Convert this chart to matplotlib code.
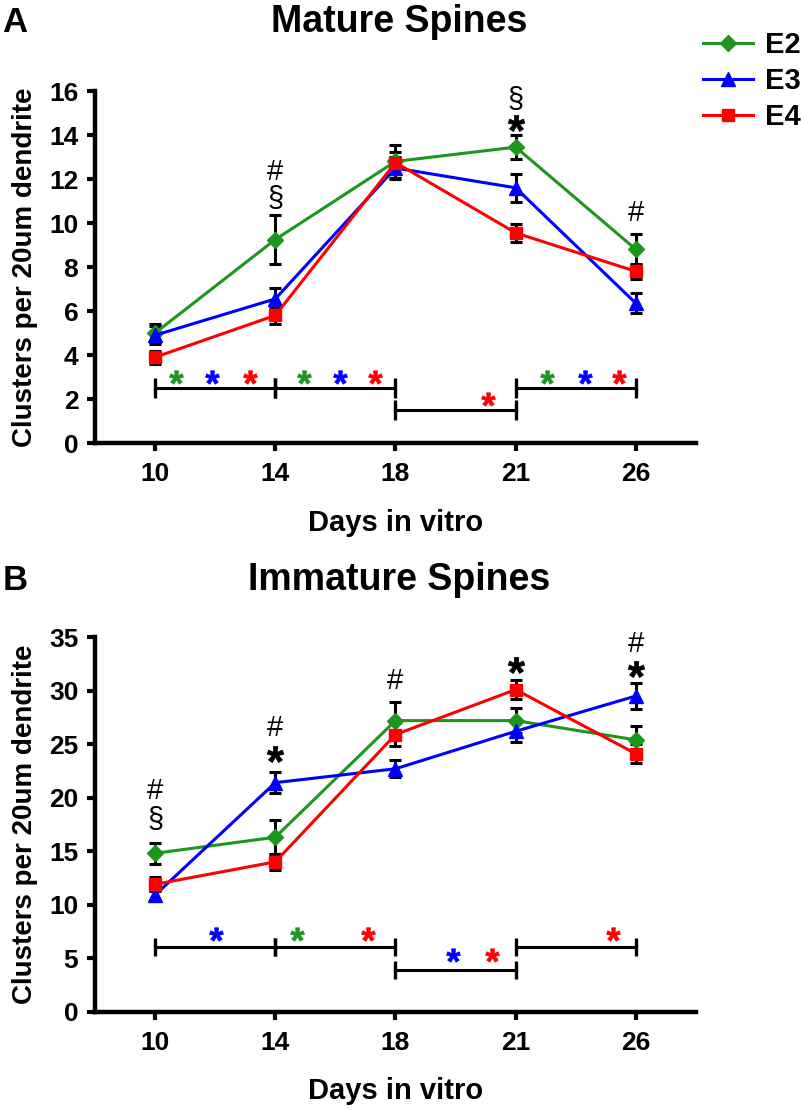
import matplotlib
matplotlib.use("Agg")
import matplotlib.pyplot as plt
import numpy as np
from matplotlib.textpath import TextPath
from matplotlib.font_manager import FontProperties
from matplotlib.path import Path

FAM = ['Liberation Sans Narrow', 'Liberation Sans', 'DejaVu Sans']
plt.rcParams['font.family'] = FAM

# ---------------- data ----------------
days = ['10', '14', '18', '21', '26']
series = ['E2', 'E3', 'E4']

mature_E2 = [5.0, 9.25, 12.8, 13.45, 8.8]
mature_E3 = [4.9, 6.55, 12.5, 11.6, 6.35]
mature_E4 = [3.9, 5.8, 12.75, 9.55, 7.8]
mature_E2_err = [0.4, 1.1, 0.75, 0.55, 0.7]
mature_E3_err = [0.4, 0.5, 0.5, 0.65, 0.45]
mature_E4_err = [0.3, 0.4, 0.5, 0.4, 0.35]

immature_E2 = [14.8, 16.3, 27.2, 27.2, 25.4]
immature_E3 = [10.9, 21.4, 22.7, 26.2, 29.5]
immature_E4 = [11.9, 14.0, 25.9, 30.1, 24.1]
immature_E2_err = [1.0, 1.6, 1.7, 1.2, 1.3]
immature_E3_err = [0.5, 1.0, 0.8, 1.0, 1.2]
immature_E4_err = [0.65, 0.75, 1.1, 0.9, 0.9]

# significance brackets: (start day index, end day index, y)
mature_brackets = [(0, 1, 2.5), (1, 2, 2.5), (2, 3, 1.5), (3, 4, 2.5)]
immature_brackets = [(0, 1, 6.0), (1, 2, 6.0), (2, 3, 3.9), (3, 4, 6.0)]
# coloured stars: (x position in day-index units, y, series)
mature_stars = [(0.17, 3.0, 'E2'), (0.47, 3.0, 'E3'), (0.79, 3.0, 'E4'),
                (1.24, 3.0, 'E2'), (1.54, 3.0, 'E3'), (1.83, 3.0, 'E4'),
                (2.77, 2.0, 'E4'),
                (3.26, 3.0, 'E2'), (3.58, 3.0, 'E3'), (3.86, 3.0, 'E4')]
immature_stars = [(0.51, 7.3, 'E3'), (1.18, 7.3, 'E2'), (1.77, 7.3, 'E4'),
                  (2.48, 5.25, 'E3'), (2.80, 5.25, 'E4'),
                  (3.81, 7.3, 'E4')]
# black symbols above points: (day index, symbol, y)
mature_marks = [(1, '#', 12.3), (1, '§', 11.1), (3, '§', 15.6), (3, '*', 14.55), (4, '#', 10.45)]
immature_marks = [(0, '#', 20.6), (0, '§', 17.9), (1, '#', 26.5), (1, '*', 24.1),
                  (2, '#', 30.9), (3, '*', 32.4), (4, '#', 34.4), (4, '*', 32.0)]

colors = {'E2': '#1c961c', 'E3': '#0000ff', 'E4': '#ff0000'}
markers = {'E2': 'D', 'E3': '^', 'E4': 's'}
msizes = {'E2': 8, 'E3': 10, 'E4': 9}


def glyph_marker(ch, weight='bold'):
    prop = FontProperties(family=['Liberation Sans', 'DejaVu Sans'], weight=weight)
    p = TextPath((0, 0), ch, prop=prop, size=1)
    codes = np.array(p.codes)
    verts = np.array(p.vertices, dtype=float)
    real = codes != Path.CLOSEPOLY
    x0, y0 = verts[real].min(axis=0)
    x1, y1 = verts[real].max(axis=0)
    verts = verts - np.array([(x0 + x1) / 2, (y0 + y1) / 2])
    verts[~real] = 0.0
    return Path(verts, codes)


STAR = glyph_marker('*')

fig = plt.figure(figsize=(8.01, 11.10), dpi=100)


def panel(rect, vals, errs, ymax, ystep, brackets, stars, marks, title, letter,
          title_y, cap_ms, star_ms, bstar_ms):
    ax = fig.add_axes(rect)
    x = np.arange(1, len(days) + 1)
    handles = []
    for s in series:
        ax.errorbar(x, vals[s], yerr=errs[s], fmt='none', ecolor='black',
                    elinewidth=2.2, capsize=4, capthick=2.2, zorder=2)
        h, = ax.plot(x, vals[s], color=colors[s], lw=2.2, marker=markers[s],
                     ms=msizes[s], mec=colors[s], mfc=colors[s], zorder=3, label=s)
        handles.append(h)
    for (i0, i1, y) in brackets:
        ax.plot([x[i0], x[i1]], [y, y], color='black', lw=2.2, zorder=2,
                marker='|', ms=cap_ms, mew=2.4, solid_capstyle='butt')
    for (px, y, s) in stars:
        ax.plot([px + 1], [y], linestyle='none', marker=STAR, ms=star_ms,
                mfc=colors[s], mec=colors[s], mew=0.5, zorder=4)
    for (i, sym, y) in marks:
        if sym == '*':
            ax.plot([x[i]], [y], linestyle='none', marker=STAR, ms=bstar_ms,
                    mfc='black', mec='black', mew=0.5, zorder=4)
        else:
            ax.text(x[i], y, sym, ha='center', va='center', fontsize=21,
                    family=['Liberation Sans', 'DejaVu Sans'], color='black')
    ax.set_xlim(0.5, 5.5)
    ax.set_ylim(0, ymax)
    ax.set_xticks(x)
    ax.set_xticklabels(days)
    ax.set_yticks(np.arange(0, ymax + 0.1, ystep))
    for sp in ['top', 'right']:
        ax.spines[sp].set_visible(False)
    for sp in ['left', 'bottom']:
        ax.spines[sp].set_linewidth(3.2)
        ax.spines[sp].set_capstyle('projecting')
    ax.tick_params(axis='both', direction='out', length=6, width=3, labelsize=19)
    ax.tick_params(axis='y', pad=6)
    ax.tick_params(axis='x', pad=8)
    for lab in ax.get_xticklabels() + ax.get_yticklabels():
        lab.set_fontweight('bold')
    ax.set_ylabel('Clusters per 20um dendrite', fontsize=20, fontweight='bold', labelpad=8)
    ax.set_xlabel('Days in vitro', fontsize=21, fontweight='bold', labelpad=16)
    fig.text(0.498, title_y, title, ha='center', va='center', fontsize=27, fontweight='bold')
    fig.text(0.003, title_y, letter, ha='left', va='center', fontsize=25,
             fontweight='bold', family=['Liberation Sans', 'DejaVu Sans'])
    return ax, handles


ax1, handles = panel([0.1186, 0.6009, 0.7503, 0.3171],
                     {'E2': mature_E2, 'E3': mature_E3, 'E4': mature_E4},
                     {'E2': mature_E2_err, 'E3': mature_E3_err, 'E4': mature_E4_err},
                     16, 2, mature_brackets, mature_stars, mature_marks,
                     'Mature Spines', 'A', 1 - 22 / 1110, 14, 10, 12)
ax2, _ = panel([0.1186, 0.0886, 0.7503, 0.3374],
               {'E2': immature_E2, 'E3': immature_E3, 'E4': immature_E4},
               {'E2': immature_E2_err, 'E3': immature_E3_err, 'E4': immature_E4_err},
               35, 5, immature_brackets, immature_stars, immature_marks,
               'Immature Spines', 'B', 1 - 580 / 1110, 13, 10, 12)

fig.legend(handles=handles, labels=series, loc='upper left',
           bbox_to_anchor=(0.878, 0.972), frameon=False, borderpad=0,
           borderaxespad=0, handlelength=1.7, handletextpad=0.4,
           labelspacing=0.28, prop={'family': FAM, 'weight': 'bold', 'size': 21})

fig.savefig('out.png', dpi=100)
